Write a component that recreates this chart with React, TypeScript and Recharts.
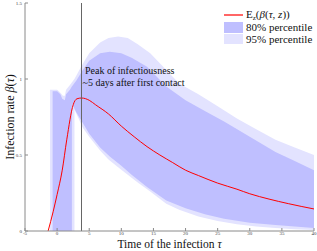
import { Area, ComposedChart, Label, Legend, Line, ReferenceLine, XAxis, YAxis } from "recharts";

// mean infection rate E_z(beta(tau, z))
const meanTau = [-1.4, -0.6, 0, 0.8, 1.5, 2.5, 3.1, 3.8, 5, 6, 8, 10, 12, 14, 16, 18, 20, 22, 25, 28, 30, 33, 36, 40];
const meanRate = [0, 0.13, 0.24, 0.4, 0.6, 0.83, 0.87, 0.875, 0.86, 0.83, 0.77, 0.69, 0.62, 0.555, 0.5, 0.45, 0.4, 0.365, 0.315, 0.275, 0.245, 0.21, 0.18, 0.145];

// 80% percentile band
const tau80 = [-0.7, 0, 0.5, 0.8, 1.2, 1.4, 2.0, 2.3, 2.3, 3, 4, 5, 6.7, 8.2, 10, 11.6, 14, 17, 20, 23, 26, 30, 34, 37, 40];
const lower80 = [0, 0, 0, 0, 0, 0, 0, 0, 0.84, 0.78, 0.71, 0.64, 0.55, 0.49, 0.43, 0.37, 0.29, 0.2, 0.15, 0.11, 0.08, 0.055, 0.04, 0.03, 0.02];
const upper80 = [0.92, 0.92, 0.9, 0.87, 0.86, 0.9, 0.93, 0.95, 0.95, 0.99, 1.06, 1.12, 1.17, 1.18, 1.17, 1.14, 1.08, 0.95, 0.86, 0.79, 0.72, 0.62, 0.52, 0.46, 0.4];

// 95% percentile band
const tau95 = [-1.1, 0, 0.5, 0.9, 1.2, 1.4, 2, 2.7, 2.7, 4, 5, 6.7, 8, 9.5, 11, 12.5, 14.5, 17, 19, 22, 25, 28, 31, 34, 37, 40];
const lower95 = [0, 0, 0, 0, 0, 0, 0, 0, 0.8, 0.68, 0.62, 0.53, 0.47, 0.42, 0.37, 0.32, 0.26, 0.18, 0.14, 0.095, 0.065, 0.045, 0.03, 0.02, 0.012, 0.006];
const upper95 = [0.93, 0.93, 0.91, 0.89, 0.89, 0.93, 0.96, 1.0, 1.0, 1.1, 1.17, 1.24, 1.27, 1.28, 1.27, 1.23, 1.17, 1.06, 0.97, 0.9, 0.82, 0.74, 0.67, 0.6, 0.55, 0.5];

const xTicks = [-5, 0, 5, 10, 15, 20, 25, 30, 35, 40];
const yTicks = [0, 0.5, 1, 1.5];
const peakTau = 3.8;

const SERIF = "Liberation Serif, Times New Roman, DejaVu Serif, serif";
const AXIS = "#8a8a8a";
const DARK = "#bfbfff";
const LIGHT = "#e3e3ff";
const RED = "#ff0000";

const band = (tau: number[], lo: number[], hi: number[]) =>
  tau.map((t, i) => ({ t, range: [lo[i], hi[i]] }));

const data80 = band(tau80, lower80, upper80);
const data95 = band(tau95, lower95, upper95);
const meanData = meanTau.map((t, i) => ({ t, rate: meanRate[i] }));

const tickStyle = { fontSize: 5, fill: "#444", fontFamily: SERIF };

const swatch = (background: string, height: number) => (
  <span style={{ display: "inline-block", flexShrink: 0, width: 19, height, background, marginRight: 3 }} />
);

const LegendBox = () => (
  <div style={{ fontFamily: SERIF, fontSize: 11, color: "#111", lineHeight: "12px" }}>
    <div style={{ display: "flex", alignItems: "center", height: 12 }}>
      <svg width={19} height={4} style={{ flexShrink: 0, marginRight: 3 }}>
        <line x1={0} x2={19} y1={2} y2={2} stroke={RED} strokeWidth={1.2} />
      </svg>
      <span>
        E<span style={{ fontSize: 7, position: "relative", top: 2 }}>z</span>(<i>β</i>(<i>τ</i>, <i>z</i>))
      </span>
    </div>
    <div style={{ display: "flex", alignItems: "center", height: 12 }}>
      {swatch(DARK, 11)}
      <span>80% percentile</span>
    </div>
    <div style={{ display: "flex", alignItems: "center", height: 12 }}>
      {swatch(LIGHT, 10)}
      <span>95% percentile</span>
    </div>
  </div>
);

export default function App() {
  return (
    <div style={{ position: "absolute", left: 0, top: 0, fontFamily: SERIF }}>
      <ComposedChart width={317} height={251} margin={{ top: 3, right: 3, left: 0, bottom: 0 }}>
        <XAxis
          dataKey="t"
          type="number"
          domain={[-5, 40]}
          ticks={xTicks}
          allowDataOverflow
          height={20}
          stroke={AXIS}
          tickSize={-3}
          tickMargin={3.5}
          tick={tickStyle}
          interval={0}
        >
          <Label
            content={({ viewBox }: any) => (
              <text
                x={viewBox.x + viewBox.width / 2}
                y={viewBox.y + viewBox.height - 3}
                textAnchor="middle"
                fontFamily={SERIF}
                fontSize={11.5}
                fill="#111"
              >
                Time of the infection <tspan fontStyle="italic">τ</tspan>
              </text>
            )}
          />
        </XAxis>
        <XAxis xAxisId="top" dataKey="t" type="number" domain={[-5, 40]} ticks={xTicks} orientation="top" height={0} stroke={AXIS} tickSize={-3} tick={false} interval={0} />
        <YAxis
          type="number"
          domain={[0, 1.5]}
          ticks={yTicks}
          allowDataOverflow
          width={25}
          stroke={AXIS}
          tickSize={-3}
          tickMargin={6}
          tick={tickStyle}
          interval={0}
        >
          <Label
            content={({ viewBox }: any) => {
              const cx = viewBox.x + 10;
              const cy = viewBox.y + viewBox.height / 2;
              return (
                <text
                  x={cx}
                  y={cy}
                  transform={`rotate(-90 ${cx} ${cy})`}
                  textAnchor="middle"
                  dominantBaseline="central"
                  fontFamily={SERIF}
                  fontSize={12}
                  fill="#111"
                >
                  Infection rate <tspan fontStyle="italic">β</tspan>(<tspan fontStyle="italic">τ</tspan>)
                </text>
              );
            }}
          />
        </YAxis>
        <YAxis yAxisId="right" type="number" domain={[0, 1.5]} ticks={yTicks} orientation="right" width={0} stroke={AXIS} tickSize={-3} tick={false} interval={0} />
        <Legend
          verticalAlign="middle"
          layout="horizontal"
          content={() => <LegendBox />}
          wrapperStyle={{ top: 9, left: 224, width: 93, height: 36 }}
        />
        <Area
          data={data95}
          dataKey="range"
          type="linear"
          stroke="none"
          fill={LIGHT}
          fillOpacity={1}
          isAnimationActive={false}
          name="95% percentile"
        />
        <Area
          data={data80}
          dataKey="range"
          type="linear"
          stroke="none"
          fill={DARK}
          fillOpacity={1}
          isAnimationActive={false}
          name="80% percentile"
        />
        <Line
          data={meanData}
          dataKey="rate"
          type="monotone"
          stroke={RED}
          strokeWidth={1}
          dot={false}
          isAnimationActive={false}
          name="mean"
        />
        <ReferenceLine
          x={peakTau}
          stroke="#666"
          strokeWidth={1}
          label={({ viewBox }: any) => (
            <text fontFamily={SERIF} fontSize={10} fill="#111">
              <tspan x={viewBox.x + 3.5} y={viewBox.y + 71}>Peak of infectiousness</tspan>
              <tspan x={viewBox.x + 1} y={viewBox.y + 83}>~5 days after first contact</tspan>
            </text>
          )}
        />
      </ComposedChart>
    </div>
  );
}
